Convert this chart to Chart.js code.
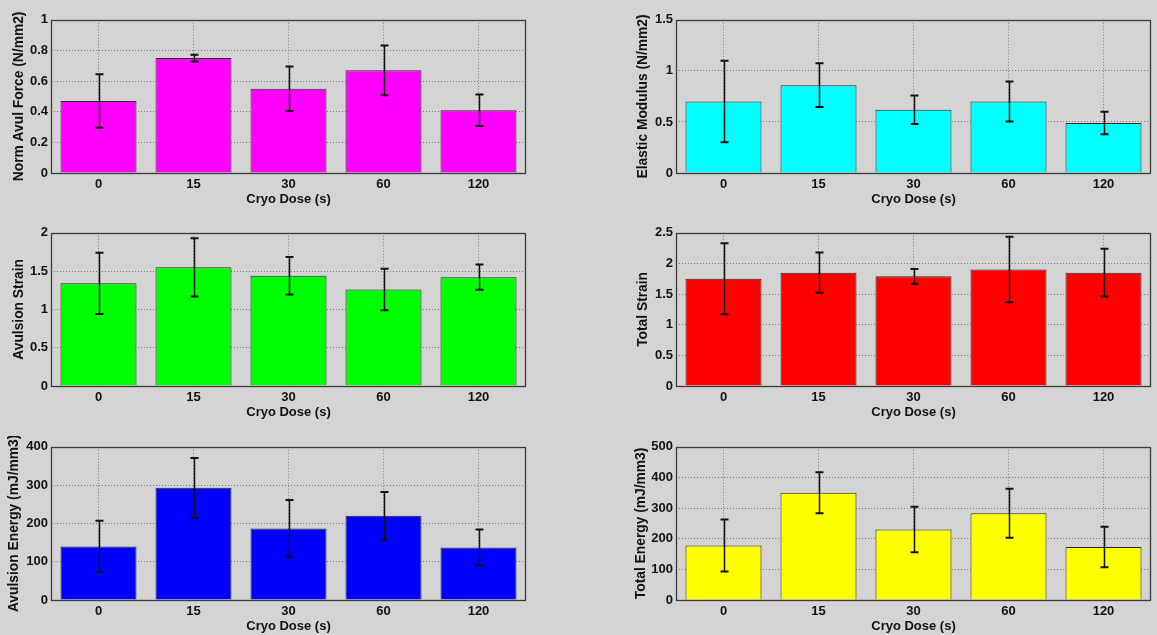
<!DOCTYPE html>
<html>
<head>
<meta charset="utf-8">
<title>Cryo dose results</title>
<script src="https://cdn.jsdelivr.net/npm/chart.js@4.4.0/dist/chart.umd.min.js"></script>
<style>
  html, body { margin: 0; padding: 0; background: #d4d4d4; }
  body { width: 1157px; height: 635px; position: relative; overflow: hidden; }
  canvas { position: absolute; }
</style>
</head>
<body>
<canvas id="forceChart"></canvas>
<canvas id="modulusChart"></canvas>
<canvas id="avulStrainChart"></canvas>
<canvas id="totalStrainChart"></canvas>
<canvas id="avulEnergyChart"></canvas>
<canvas id="totalEnergyChart"></canvas>
<script>
// Cryo dose groups (seconds)
const doses = ['0', '15', '30', '60', '120'];

// mean and standard deviation for each measure
const normAvulForce = [0.47, 0.75, 0.55, 0.67, 0.41];
const normAvulForceSd = [0.175, 0.022, 0.145, 0.162, 0.103];

const elasticModulus = [0.70, 0.86, 0.62, 0.70, 0.49];
const elasticModulusSd = [0.40, 0.215, 0.14, 0.195, 0.11];

const avulsionStrain = [1.34, 1.55, 1.44, 1.26, 1.42];
const avulsionStrainSd = [0.40, 0.38, 0.245, 0.27, 0.165];

const totalStrain = [1.75, 1.85, 1.79, 1.90, 1.85];
const totalStrainSd = [0.58, 0.33, 0.12, 0.535, 0.39];

const avulsionEnergy = [140, 293, 187, 220, 137];
const avulsionEnergySd = [67, 78, 74, 62, 47];

const totalEnergy = [178, 350, 230, 283, 173];
const totalEnergySd = [85, 67, 74, 80, 66];

const font = { family: "'Liberation Sans', Arial, sans-serif", size: 13, weight: 'bold' };
const labelFont = { family: "'Liberation Sans', Arial, sans-serif", size: 13.8, weight: 'bold' };
const textColor = '#111';
const gridColor = '#7a7a7a';

// mean +/- sd whiskers with caps
const errorBars = {
  id: 'errorBars',
  afterDatasetsDraw(chart, args, opts) {
    const ctx = chart.ctx;
    const y = chart.scales.y;
    const vals = chart.data.datasets[0].data;
    const meta = chart.getDatasetMeta(0);
    ctx.save();
    ctx.strokeStyle = '#111';
    meta.data.forEach((bar, i) => {
      const hi = y.getPixelForValue(vals[i] + opts.sd[i]);
      const lo = y.getPixelForValue(vals[i] - opts.sd[i]);
      const x = Math.round(bar.x) + 0.5;
      ctx.lineWidth = 1.5;
      ctx.beginPath();
      ctx.moveTo(x, hi);
      ctx.lineTo(x, lo);
      ctx.stroke();
      ctx.lineWidth = 2;
      ctx.beginPath();
      ctx.moveTo(x - 4, hi); ctx.lineTo(x + 4, hi);
      ctx.moveTo(x - 4, lo); ctx.lineTo(x + 4, lo);
      ctx.stroke();
    });
    ctx.restore();
  }
};

// box around the axes
const axesBox = {
  id: 'axesBox',
  afterDraw(chart) {
    const { left, top, right, bottom } = chart.chartArea;
    const ctx = chart.ctx;
    ctx.save();
    ctx.strokeStyle = '#3a3a3a';
    ctx.lineWidth = 1.3;
    ctx.strokeRect(Math.round(left) + 0.5, Math.round(top) + 0.5,
      Math.round(right - left) - 1, Math.round(bottom - top));
    ctx.restore();
  }
};

// plot box positions on the page
const colX = [51, 676];
const rowY = [19, 232, 446];
const plotW = 475, plotH = 154;
const yAxisW = 51, xAxisH = 34, padTop = 10, padRight = 4;

// 1 instead of 1.0, 0.5 stays 0.5
const plainNumber = v => String(parseFloat(Number(v).toFixed(4)));

function makePanel(id, col, row, values, sd, color, label, yMax, yStep, titleOffset) {
  const canvas = document.getElementById(id);
  canvas.width = yAxisW + plotW + padRight;
  canvas.height = padTop + plotH + xAxisH;
  canvas.style.left = (colX[col] - yAxisW) + 'px';
  canvas.style.top = (rowY[row] - padTop) + 'px';

  new Chart(canvas, {
    type: 'bar',
    data: {
      labels: doses,
      datasets: [{
        data: values,
        backgroundColor: color,
        borderColor: '#2a2a2a',
        borderWidth: 1,
        categoryPercentage: 1,
        barPercentage: 0.8
      }]
    },
    options: {
      responsive: false,
      animation: false,
      layout: { padding: { top: padTop, right: padRight, left: 0, bottom: 0 } },
      plugins: {
        legend: { display: false },
        tooltip: { enabled: false },
        errorBars: { sd: sd }
      },
      scales: {
        x: {
          offset: true,
          grid: { offset: false, color: gridColor, drawTicks: false },
          border: { display: false, dash: [1, 2] },
          ticks: { font: font, color: textColor, padding: 4, maxRotation: 0 },
          title: { display: true, text: 'Cryo Dose (s)', font: font, color: textColor, padding: 0 },
          afterFit: s => { s.height = xAxisH; }
        },
        y: {
          min: 0,
          max: yMax,
          grid: {
            // the box already draws the lines at 0 and at the top
            color: c => (c.tick && (c.tick.value === 0 || c.tick.value === yMax)) ? 'rgba(0,0,0,0)' : gridColor,
            drawTicks: false
          },
          border: { display: false, dash: [1, 2] },
          ticks: { stepSize: yStep, font: font, color: textColor, padding: 3, callback: plainNumber },
          title: { display: true, text: label, font: labelFont, color: textColor, padding: { top: titleOffset, bottom: 0 } },
          afterFit: s => { s.width = yAxisW; }
        }
      }
    },
    plugins: [errorBars, axesBox]
  });
}

makePanel('forceChart', 0, 0, normAvulForce, normAvulForceSd, '#ff00ff', 'Norm Avul Force (N/mm2)', 1, 0.2, 10.5);
makePanel('modulusChart', 1, 0, elasticModulus, elasticModulusSd, '#00ffff', 'Elastic Modulus (N/mm2)', 1.5, 0.5, 9.5);
makePanel('avulStrainChart', 0, 1, avulsionStrain, avulsionStrainSd, '#00ff00', 'Avulsion Strain', 2, 0.5, 10.5);
makePanel('totalStrainChart', 1, 1, totalStrain, totalStrainSd, '#ff0000', 'Total Strain', 2.5, 0.5, 9.5);
makePanel('avulEnergyChart', 0, 2, avulsionEnergy, avulsionEnergySd, '#0000ff', 'Avulsion Energy (mJ/mm3)', 400, 100, 6);
makePanel('totalEnergyChart', 1, 2, totalEnergy, totalEnergySd, '#ffff00', 'Total Energy (mJ/mm3)', 500, 100, 7.5);
</script>
</body>
</html>
